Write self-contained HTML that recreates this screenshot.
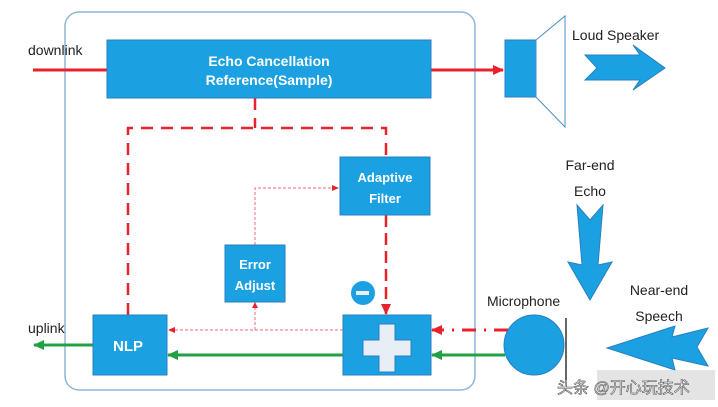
<!DOCTYPE html>
<html><head><meta charset="utf-8"><style>
body{margin:0;background:#fff;}
svg{display:block}
text{font-family:"Liberation Sans","Noto Sans CJK SC",sans-serif;}
</style></head><body>
<svg width="718" height="407" viewBox="0 0 718 407" xmlns="http://www.w3.org/2000/svg">
<defs>
<marker id="ar" markerWidth="12" markerHeight="12" refX="10" refY="6" orient="auto" markerUnits="userSpaceOnUse"><path d="M0,1 L11,6 L0,11 z" fill="#e8222a"/></marker>
<marker id="ag" markerWidth="12" markerHeight="12" refX="10" refY="6" orient="auto" markerUnits="userSpaceOnUse"><path d="M0,1 L11,6 L0,11 z" fill="#22a044"/></marker>
<marker id="ap" markerWidth="8" markerHeight="8" refX="7" refY="4" orient="auto" markerUnits="userSpaceOnUse"><path d="M0,1 L7,4 L0,7 z" fill="#e8222a"/></marker>
</defs>
<rect x="65" y="12" width="410" height="378" rx="14" fill="none" stroke="#8fb6d6" stroke-width="1.5"/>
<line x1="33" y1="70" x2="107" y2="70" stroke="#e8222a" stroke-width="3"/>
<line x1="431" y1="70" x2="503" y2="70" stroke="#e8222a" stroke-width="3" marker-end="url(#ar)"/>
<path d="M255,98 V128 M128,315 V128 H386 V157" fill="none" stroke="#e8222a" stroke-width="2.5" stroke-dasharray="12,8"/>
<line x1="386" y1="215" x2="386" y2="314" stroke="#e8222a" stroke-width="2.5" stroke-dasharray="12,6" marker-end="url(#ar)"/>
<line x1="508" y1="330" x2="432" y2="330" stroke="#e8222a" stroke-width="3" stroke-dasharray="14,8,2,8" marker-end="url(#ar)"/>
<path d="M255,330 V304 M255,245 V188 H338" fill="none" stroke="#f06a7a" stroke-width="1" stroke-dasharray="3,2"/>
<line x1="343" y1="330" x2="168" y2="330" stroke="#f06a7a" stroke-width="1" stroke-dasharray="3,2" marker-end="url(#ap)"/>
<path d="M339,188 l-7,-3 v6z M255,302 l-3,6 h6z" fill="#e8222a"/>
<line x1="505" y1="355" x2="432" y2="355" stroke="#22a044" stroke-width="3" marker-end="url(#ag)"/>
<line x1="343" y1="355" x2="168" y2="355" stroke="#22a044" stroke-width="3" marker-end="url(#ag)"/>
<line x1="93" y1="345" x2="34" y2="345" stroke="#22a044" stroke-width="3" marker-end="url(#ag)"/>
<g fill="#1ba1e2" stroke="#2a7fbf" stroke-width="1">
<rect x="107" y="40" width="324" height="58"/>
<rect x="340" y="157" width="90" height="58"/>
<rect x="225" y="245" width="60" height="57"/>
<rect x="93" y="315" width="74" height="60"/>
<rect x="343" y="315" width="88" height="60"/>
<rect x="505" y="40" width="31" height="57"/>
<path d="M536,40 L565,16 V127 L536,97z" fill="#fff" stroke="#4a90c0"/>
<circle cx="534" cy="345" r="30"/>
</g>
<line x1="566" y1="318" x2="566" y2="386" stroke="#333" stroke-width="1.5"/>
<circle cx="363" cy="293" r="12" fill="#1ba1e2"/>
<rect x="356" y="291" width="13" height="4" fill="#e8eef5"/>
<path d="M379,324 h16 v16 h16 v16 h-16 v16 h-16 v-16 h-16 v-16 h16z" fill="#e8eef5" stroke="#2a7fbf"/>
<path d="M585,55 L640,55 L633,45 L665,68 L633,90 L640,80 L585,80 L597,68z" fill="#1ba1e2" stroke="#2a7fbf"/>
<path d="M577,205 L590,220 L603,205 L598,265 L612,262 L590,300 L568,262 L582,265z" fill="#1ba1e2" stroke="#2a7fbf"/>
<path d="M708,328 L697,347 L708,366 L672,358 L675,370 L607,348 L675,326 L672,337z" fill="#1ba1e2" stroke="#2a7fbf"/>
<g fill="#fff" font-weight="bold" font-size="14" text-anchor="middle">
<text x="269" y="66">Echo Cancellation</text>
<text x="269" y="85">Reference(Sample)</text>
<text x="385" y="182" font-size="13">Adaptive</text>
<text x="385" y="203" font-size="13">Filter</text>
<text x="255" y="269" font-size="13">Error</text>
<text x="255" y="290" font-size="13">Adjust</text>
<text x="128" y="351" font-size="15">NLP</text>
</g>
<g fill="#222" font-size="14">
<text x="28" y="55">downlink</text>
<text x="28" y="333">uplink</text>
<text x="572" y="40">Loud Speaker</text>
<text x="590" y="170" text-anchor="middle">Far-end</text>
<text x="590" y="196" text-anchor="middle">Echo</text>
<text x="487" y="306">Microphone</text>
<text x="659" y="295" text-anchor="middle">Near-end</text>
<text x="659" y="321" text-anchor="middle">Speech</text>
</g>
<rect x="597" y="370" width="118" height="30" fill="#d8d8d8" opacity="0.7"/>
<text x="557" y="393" font-size="16" fill="#fff" stroke="#555" stroke-width="0.6">头条 @开心玩技术</text>
</svg>
</body></html>
